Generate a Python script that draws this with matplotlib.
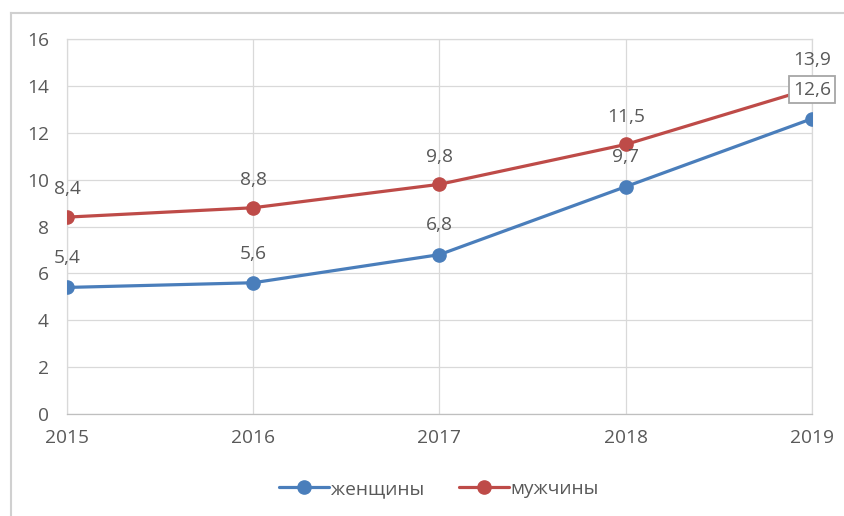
import matplotlib
matplotlib.use("Agg")
import matplotlib.pyplot as plt
from matplotlib.lines import Line2D

plt.rcParams['font.family'] = ['Open Sans', 'DejaVu Sans']

# data
years = ['2015', '2016', '2017', '2018', '2019']
women = [5.4, 5.6, 6.8, 9.7, 12.6]
men = [8.4, 8.8, 9.8, 11.5, 13.9]
series_names = ['женщины', 'мужчины']
y_ticks = [0, 2, 4, 6, 8, 10, 12, 14, 16]

BLUE = '#4A7EBB'
RED = '#BE4B48'
TEXT = '#595959'
GRID = '#D9D9D9'
FS = 13.8

fig = plt.figure(figsize=(8.45, 5.16), dpi=100)
ax = fig.add_axes([67 / 845, 1 - 414 / 516, (812 - 67) / 845, (414 - 39) / 516])

x = list(range(len(years)))
ax.plot(x, women, color=BLUE, lw=2.3, marker='o', ms=9.5, label=series_names[0],
        solid_capstyle='round', zorder=3)
ax.plot(x, men, color=RED, lw=2.3, marker='o', ms=9.5, label=series_names[1],
        solid_capstyle='round', zorder=3)

# data labels above points
for i, v in enumerate(women):
    txt = f"{v:.1f}".replace('.', ',')
    bbox = None
    if i == len(women) - 1:
        bbox = dict(boxstyle='square,pad=0.22', fc='white', ec='#A6A6A6', lw=1.3)
    ax.annotate(txt, (i, v), xytext=(0, 21), textcoords='offset points',
                ha='center', va='center', fontsize=FS, color=TEXT, bbox=bbox,
                zorder=5, annotation_clip=False)
for i, v in enumerate(men):
    txt = f"{v:.1f}".replace('.', ',')
    ax.annotate(txt, (i, v), xytext=(0, 20), textcoords='offset points',
                ha='center', va='center', fontsize=FS, color=TEXT, zorder=5,
                annotation_clip=False)

ax.set_xlim(0, len(years) - 1)
ax.set_ylim(0, 16)
ax.set_xticks(x)
ax.set_xticklabels(years)
ax.set_yticks(y_ticks)
ax.tick_params(axis='both', length=0, labelsize=FS, colors=TEXT)
ax.tick_params(axis='y', pad=13)
ax.tick_params(axis='x', pad=11)

ax.grid(True, color=GRID, lw=0.9)
ax.set_axisbelow(True)
for side in ['top', 'left', 'right']:
    ax.spines[side].set_color(GRID)
    ax.spines[side].set_linewidth(0.9)
ax.spines['bottom'].set_color('#BFBFBF')
ax.spines['bottom'].set_linewidth(0.9)

# legend at bottom
fig.legend(loc='center', bbox_to_anchor=(439 / 845, 1 - 489 / 516), ncol=2,
           frameon=False, fontsize=FS, labelcolor=TEXT, handlelength=2.6,
           handletextpad=0.1, columnspacing=1.8)

# chart area border (top and left)
fig.add_artist(Line2D([11 / 845, 11 / 845], [0, 1 - 13 / 516], color='#D0D0D0', lw=1.5,
                      transform=fig.transFigure))
fig.add_artist(Line2D([11 / 845, 1], [1 - 13 / 516, 1 - 13 / 516], color='#D0D0D0', lw=1.5,
                      transform=fig.transFigure))

fig.savefig('out.png', dpi=100)
